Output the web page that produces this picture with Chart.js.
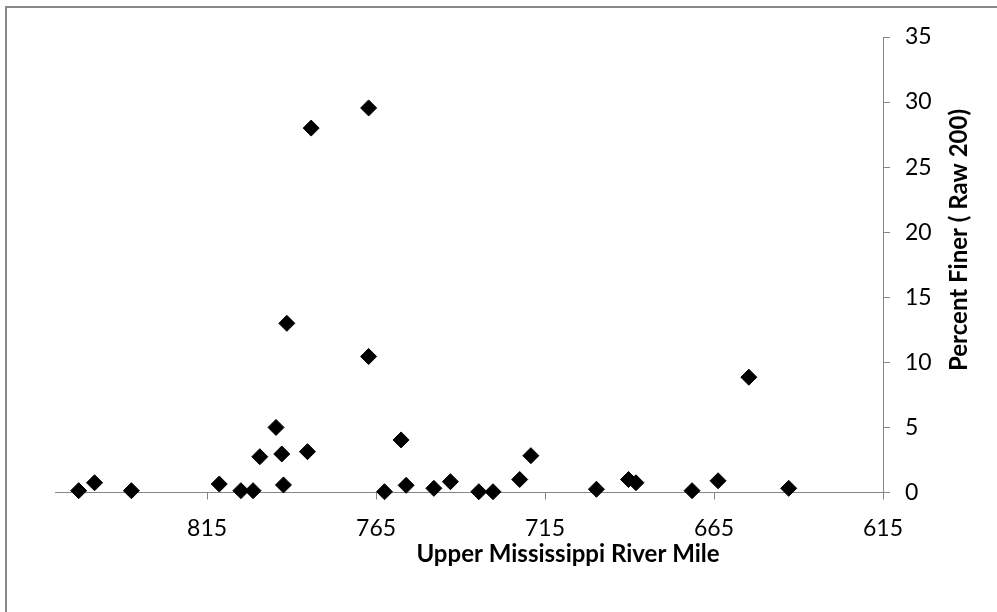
<!DOCTYPE html>
<html>
<head>
<meta charset="utf-8">
<title>Percent Finer vs River Mile</title>
<script src="https://cdn.jsdelivr.net/npm/chart.js@4.4.0/dist/chart.umd.min.js"></script>
<style>
  html, body { margin: 0; padding: 0; background: #fff; }
  #wrap { position: relative; width: 997px; height: 612px; }
</style>
</head>
<body>
<div id="wrap"><canvas id="mycanvas" width="997" height="612"></canvas></div>
<script>
// river mile of each sample
var riverMile = [853.0, 848.3, 837.4, 811.4, 805.0, 801.4, 799.4, 794.6, 792.9, 792.4,
                 791.4, 785.3, 784.2, 767.2, 767.2, 762.5, 757.6, 756.1, 747.9, 743.0,
                 734.6, 730.4, 722.5, 719.2, 699.8, 690.3, 688.1, 671.5, 663.8, 654.7,
                 642.9];
// percent finer (raw 200)
var percentFiner = [0.14, 0.75, 0.14, 0.65, 0.14, 0.14, 2.75, 5.0, 2.96, 0.58,
                    13.0, 3.14, 28.0, 29.55, 10.45, 0.06, 4.04, 0.55, 0.32, 0.83,
                    0.06, 0.06, 1.0, 2.83, 0.25, 1.0, 0.75, 0.14, 0.9, 8.86,
                    0.32];
var xTicks = [815, 765, 715, 665, 615];
var yTicks = [0, 5, 10, 15, 20, 25, 30, 35];
var xTitle = 'Upper Mississippi River Mile';
var yTitle = 'Percent Finer ( Raw 200)';

var axisGray = '#868686';
var fontName = 'Lato, "Open Sans", sans-serif';

var points = [];
for (var i in riverMile) {
    points.push({x: riverMile[i], y: percentFiner[i]});
}

// white background, the chart border and both axis titles
// (the excel original has them off-centre, and the y one reads bottom to top)
var decor = {
    id: 'decor',
    beforeDraw: function (chart) {
        var ctx = chart.ctx;
        ctx.save();
        ctx.fillStyle = '#fff';
        ctx.fillRect(0, 0, chart.width, chart.height);
        ctx.strokeStyle = '#898989';
        ctx.lineWidth = 2;
        ctx.beginPath();
        ctx.moveTo(6, chart.height + 5);
        ctx.lineTo(6, 7);
        ctx.lineTo(chart.width + 5, 7);
        ctx.stroke();
        ctx.restore();
    },
    afterDraw: function (chart) {
        var ctx = chart.ctx;
        ctx.save();
        ctx.font = 'bold 24px ' + fontName;
        ctx.fillStyle = '#000';
        ctx.textAlign = 'center';
        ctx.textBaseline = 'middle';
        ctx.fillText(xTitle, 568, 554);
        ctx.translate(959, 240);
        ctx.rotate(-Math.PI / 2);
        ctx.fillText(yTitle, 0, 0);
        ctx.restore();
    }
};

var chartdata = {
    datasets: [
        {
            label: 'Percent Finer',
            data: points,
            pointStyle: 'rectRot',
            pointRadius: 8,
            pointHoverRadius: 8,
            pointBorderWidth: 1,
            backgroundColor: '#000',
            borderColor: '#000',
            clip: false
        }
    ]
};

var graphTarget = document.getElementById('mycanvas');

var scatterGraph = new Chart(graphTarget, {
    type: 'scatter',
    data: chartdata,
    plugins: [decor],
    options: {
        responsive: false,
        animation: false,
        events: [],
        layout: { padding: { left: 55, top: 37, right: 0, bottom: 0 } },
        plugins: {
            legend: { display: false },
            tooltip: { enabled: false }
        },
        scales: {
            x: {
                type: 'linear',
                position: 'bottom',
                reverse: true,
                min: 615,
                max: 860,
                afterBuildTicks: function (scale) {
                    scale.ticks = xTicks.map(function (v) { return {value: v}; });
                },
                afterFit: function (scale) { scale.height = 119.5; },
                grid: {
                    drawOnChartArea: false,
                    drawTicks: true,
                    tickLength: 7,
                    color: axisGray
                },
                border: { display: true, color: axisGray, width: 1 },
                ticks: {
                    padding: 15,
                    color: '#000',
                    maxRotation: 0,
                    font: { family: fontName, size: 23 }
                }
            },
            y: {
                type: 'linear',
                position: 'right',
                min: 0,
                max: 35,
                afterBuildTicks: function (scale) {
                    scale.ticks = yTicks.map(function (v) { return {value: v}; });
                },
                afterFit: function (scale) { scale.width = 114; },
                grid: {
                    drawOnChartArea: false,
                    drawTicks: true,
                    tickLength: 7,
                    color: axisGray
                },
                border: { display: true, color: axisGray, width: 1 },
                ticks: {
                    padding: 15,
                    color: '#000',
                    font: { family: fontName, size: 23 }
                }
            }
        }
    }
});
</script>
</body>
</html>
